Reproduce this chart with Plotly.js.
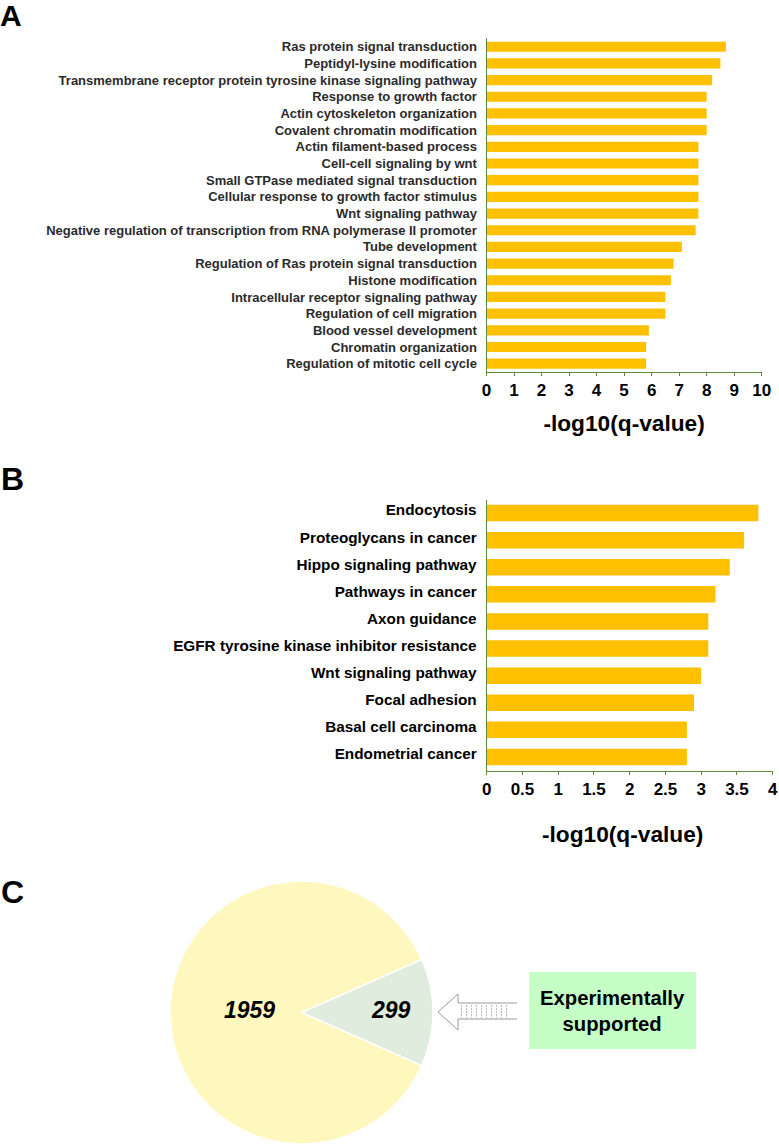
<!DOCTYPE html>
<html><head><meta charset="utf-8">
<script src="https://cdn.plot.ly/plotly-3.0.1.min.js"></script>
<style>html,body{margin:0;padding:0;background:#fff}#c{width:779px;height:1144px}</style>
</head><body><div id="c"></div>
<script>
const W = 779, H = 1144;
const goTerms = ["Ras protein signal transduction","Peptidyl-lysine modification","Transmembrane receptor protein tyrosine kinase signaling pathway","Response to growth factor","Actin cytoskeleton organization","Covalent chromatin modification","Actin filament-based process","Cell-cell signaling by wnt","Small GTPase mediated signal transduction","Cellular response to growth factor stimulus","Wnt signaling pathway","Negative regulation of transcription from RNA polymerase II promoter","Tube development","Regulation of Ras protein signal transduction","Histone modification","Intracellular receptor signaling pathway","Regulation of cell migration","Blood vessel development","Chromatin organization","Regulation of mitotic cell cycle"];
const goValues = [8.7,8.5,8.2,8.0,8.0,8.0,7.7,7.7,7.7,7.7,7.7,7.6,7.1,6.8,6.7,6.5,6.5,5.9,5.8,5.8];
const keggTerms = ["Endocytosis","Proteoglycans in cancer","Hippo signaling pathway","Pathways in cancer","Axon guidance","EGFR tyrosine kinase inhibitor resistance","Wnt signaling pathway","Focal adhesion","Basal cell carcinoma","Endometrial cancer"];
const keggValues = [3.8,3.6,3.4,3.2,3.1,3.1,3.0,2.9,2.8,2.8];
const pieLabels = ["Experimentally supported","Other"];
const pieValues = [299,1959];
const axisTitle = "-log10(q-value)";
const FONT = "Liberation Sans";
const GREEN = "#5f8a3c", GOLD = "#FFC000";
const px = x => x / W, py = y => 1 - y / H;

const data = [
 {type:"bar",orientation:"h",x:goValues,y:goTerms,xaxis:"x",yaxis:"y",marker:{color:GOLD,line:{width:0}},hoverinfo:"x+y"},
 {type:"bar",orientation:"h",x:keggValues,y:keggTerms,xaxis:"x2",yaxis:"y2",marker:{color:GOLD,line:{width:0}},hoverinfo:"x+y"},
 {type:"pie",labels:pieLabels,values:pieValues,sort:false,direction:"clockwise",
  rotation:90-(pieValues[0]/(pieValues[0]+pieValues[1]))*180,
  domain:{x:[px(170),px(433)],y:[py(1144),py(881)]},textinfo:"none",
  marker:{colors:["#E0ECDD","#FFF8BE"],line:{color:"#fff",width:1.5}}}
];
const xBase = {showgrid:false,zeroline:false,showline:true,linecolor:GREEN,linewidth:1,ticks:"outside",ticklen:3,tickwidth:1,tickcolor:GREEN,fixedrange:true,
  tickfont:{family:FONT,size:17,color:"#000",weight:700}};
const yBase = {type:"category",autorange:"reversed",showgrid:false,zeroline:false,showline:true,linecolor:GREEN,linewidth:1,ticks:"",fixedrange:true,ticklabelstandoff:6};
const layout = {
 width:W,height:H,margin:{l:0,r:0,t:0,b:0,pad:0},showlegend:false,paper_bgcolor:"#fff",plot_bgcolor:"#fff",
 bargap:0.39,
 font:{family:FONT},
 xaxis:{...xBase,domain:[px(486.5),px(761.7)],range:[0,10],dtick:1,anchor:"y",automargin:false,
   title:{text:axisTitle,standoff:15,font:{family:FONT,size:22.7,color:"#000",weight:700}}},
 yaxis:{...yBase,domain:[py(372),py(38.4)],anchor:"x",automargin:false,ticklabelshift:0,tickfont:{family:FONT,size:13,color:"#2b2b2b",weight:700}},
 xaxis2:{...xBase,domain:[px(486.7),px(772.7)],range:[0,4],dtick:0.5,anchor:"y2",automargin:false},
 yaxis2:{...yBase,domain:[py(770.5),py(499.5)],anchor:"x2",automargin:false,ticklabelshift:3,tickfont:{family:FONT,size:15.3,color:"#000",weight:700}},
 shapes:[],
 annotations:[]
};
const note = (text,x,y,size,extra={}) => layout.annotations.push({text,xref:"paper",yref:"paper",x:px(x),y:py(y),showarrow:false,xanchor:"center",yanchor:"middle",
  font:{family:FONT,size,color:"#000",weight:700,...(extra.style?{style:extra.style}:{})}});
note("A",11,16,30); note("B",12,479,32); note("C",12,892,32);
note(axisTitle,622.5,834,22.7);
note(String(pieValues[1]),249,1010,23,{style:"italic"});
note(String(pieValues[0]),391,1010,23,{style:"italic"});
note("Experimentally<br>supported",612,1011,20.3);

const addShape = s => layout.shapes.push({xref:"paper",yref:"paper",...s});
addShape({type:"rect",x0:px(529),x1:px(696),y0:py(972),y1:py(1049),fillcolor:"#C6FFC6",line:{width:0},layer:"below"});
const arrowPts = [[517,1003],[458,1003],[458,994],[438,1012],[458,1030],[458,1019],[517,1019]];
addShape({type:"path",path:"M"+arrowPts.map(p=>px(p[0])+","+py(p[1])).join(" L"),fillcolor:"rgba(0,0,0,0)",line:{color:"#9a9a9a",width:1}});
for(let x=461.5;x<=511;x+=5) addShape({type:"line",x0:px(x),x1:px(x),y0:py(1005),y1:py(1018),line:{color:"#bdbdbd",width:1,dash:"2px,1px"}});

Plotly.newPlot("c",data,layout,{displayModeBar:false,staticPlot:true});
</script></body></html>
